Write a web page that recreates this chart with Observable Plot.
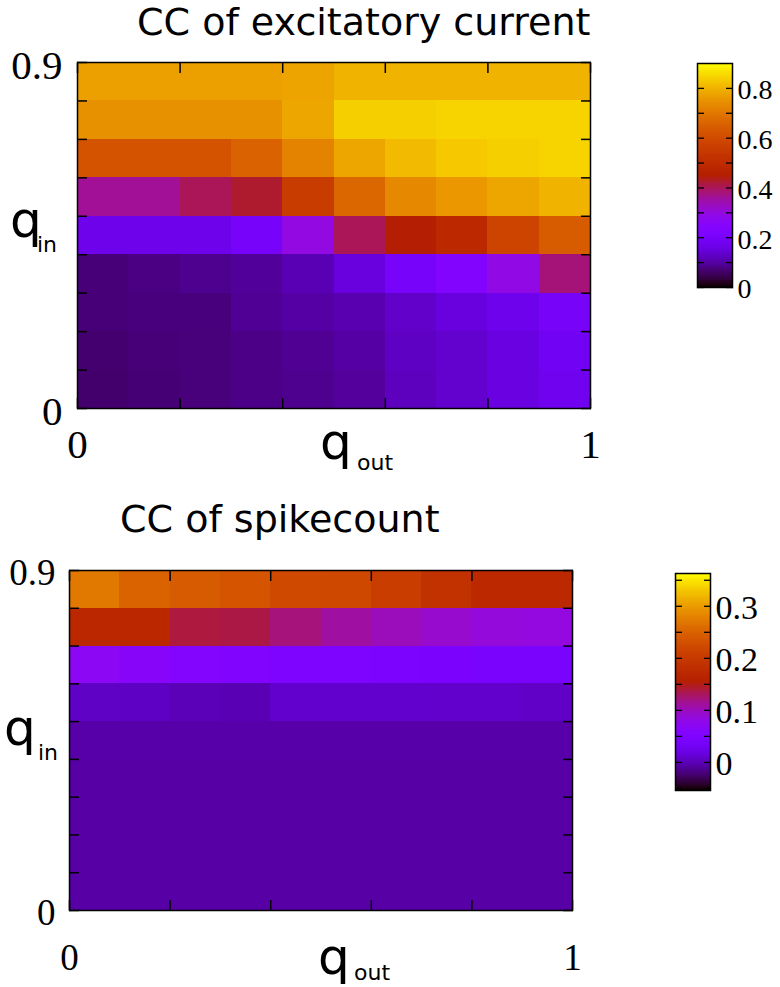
<!DOCTYPE html>
<html><head><meta charset="utf-8">
<script src="https://cdn.jsdelivr.net/npm/d3@7"></script>
<script src="https://cdn.jsdelivr.net/npm/@observablehq/plot@0.6"></script>
<style>
body{margin:0;background:#fff;}
#root{position:relative;width:780px;height:987px;background:#fff;}
.abs{position:absolute;white-space:nowrap;line-height:1;}
.title{font-family:"DejaVu Sans";font-size:38px;line-height:normal;color:#000;}
.q{font-family:"DejaVu Sans";font-size:50px;letter-spacing:-7px;color:#000;}
.sub{font-family:"DejaVu Sans";font-size:22px;color:#000;}
</style>
</head><body>
<div id="root"></div>
<script>
// ---- data ----
const qOut = [0, 0.1, 0.2, 0.3, 0.4, 0.5, 0.6, 0.7, 0.8, 0.9];   // left edge of each column
const qIn  = [0, 0.1, 0.2, 0.3, 0.4, 0.5, 0.6, 0.7, 0.8];        // bottom edge of each row
const cellStep = 0.1;

// CC of excitatory current, rows q_in = 0 (bottom) ... 0.8 (top)
const excRow0 = [0.063,0.068,0.072,0.080,0.085,0.095,0.120,0.135,0.155,0.175];
const excRow1 = [0.065,0.070,0.072,0.080,0.088,0.100,0.125,0.135,0.155,0.180];
const excRow2 = [0.070,0.073,0.073,0.090,0.100,0.110,0.130,0.150,0.170,0.195];
const excRow3 = [0.070,0.077,0.085,0.093,0.112,0.153,0.200,0.234,0.290,0.380];
const excRow4 = [0.167,0.167,0.167,0.200,0.295,0.400,0.448,0.490,0.580,0.640];
const excRow5 = [0.360,0.360,0.400,0.424,0.555,0.665,0.730,0.755,0.780,0.800];
const excRow6 = [0.620,0.620,0.620,0.655,0.720,0.780,0.810,0.830,0.840,0.845];
const excRow7 = [0.745,0.745,0.745,0.745,0.780,0.840,0.840,0.845,0.845,0.845];
const excRow8 = [0.770,0.770,0.770,0.770,0.775,0.800,0.800,0.800,0.800,0.800];

// CC of spikecount
const spkRow0 = [-0.007,-0.007,-0.007,-0.007,-0.007,-0.007,-0.007,-0.007,-0.007,-0.007];
const spkRow1 = [-0.007,-0.007,-0.007,-0.007,-0.007,-0.007,-0.007,-0.007,-0.007,-0.007];
const spkRow2 = [-0.007,-0.007,-0.007,-0.007,-0.007,-0.007,-0.007,-0.007,-0.007,-0.007];
const spkRow3 = [-0.007,-0.007,-0.007,-0.007,-0.007,-0.007,-0.007,-0.007,-0.007,-0.007];
const spkRow4 = [-0.006,-0.006,-0.006,-0.006,-0.006,-0.006,-0.006,-0.006,-0.006,-0.006];
const spkRow5 = [0.005,0.004,-0.001,-0.002,0.008,0.008,0.008,0.007,0.007,0.006];
const spkRow6 = [0.071,0.063,0.056,0.052,0.050,0.048,0.045,0.043,0.042,0.042];
const spkRow7 = [0.170,0.170,0.138,0.136,0.121,0.109,0.100,0.092,0.086,0.084];
const spkRow8 = [0.270,0.250,0.242,0.234,0.221,0.220,0.205,0.188,0.172,0.172];

const excColorDomain = [0, 0.9];
const spkColorDomain = [-0.054, 0.363];
const xTickValues = [0, 0.2, 0.4, 0.6, 0.8, 1];
const xTickLabels = [0, 1];
const yTickValues = [0, 0.1, 0.2, 0.3, 0.4, 0.5, 0.6, 0.7, 0.8, 0.9];
const yTickLabels = [0, 0.9];
const excBarTicks = [0, 0.1, 0.2, 0.3, 0.4, 0.5, 0.6, 0.7, 0.8];
const excBarLabels = [0, 0.2, 0.4, 0.6, 0.8];
const spkBarTicks = [-0.05, 0, 0.05, 0.1, 0.15, 0.2, 0.25, 0.3, 0.35];
const spkBarLabels = [0, 0.1, 0.2, 0.3];

// gnuplot default pm3d palette (rgbformulae 7,5,15)
const gnuplotPalette = t => {
  t = Math.max(0, Math.min(1, t));
  const r = Math.sqrt(t), g = t * t * t, b = Math.max(0, Math.sin(2 * Math.PI * t));
  return `rgb(${Math.round(r*255)},${Math.round(g*255)},${Math.round(b*255)})`;
};

const root = document.getElementById("root");
function place(el, left, top) {
  el.style.position = "absolute"; el.style.left = left + "px"; el.style.top = top + "px";
  el.style.overflow = "visible";
  root.appendChild(el);
}
function html(cls, text, left, top) {
  const d = document.createElement("div");
  d.className = "abs " + cls; d.textContent = text;
  d.style.left = left + "px"; d.style.top = top + "px";
  root.appendChild(d);
}

function heatmap(rows, colorDomain, o) {
  const cells = [];
  rows.forEach((row, i) => row.forEach((v, j) => cells.push({qout: qOut[j], qin: qIn[i], v})));
  const fmt = d => String(d);
  return Plot.plot({
    width: o.width, height: o.height,
    marginLeft: o.ml, marginRight: o.mr, marginTop: o.mt, marginBottom: o.mb,
    x: {domain: [0, 1]},
    y: {domain: [0, 0.9]},
    color: {type: "linear", domain: colorDomain, interpolate: gnuplotPalette, clamp: true},
    style: {fontFamily: "'Liberation Serif', serif", background: "transparent", color: "#000"},
    marks: [
      Plot.rect(cells, {x1: "qout", x2: d => d.qout + cellStep, y1: "qin", y2: d => d.qin + cellStep,
        fill: "v", shapeRendering: "crispEdges"}),
      Plot.axisX({anchor: "bottom", ticks: xTickValues, tickSize: -o.tick, tickFormat: () => "", label: null, strokeWidth: 1.5}),
      Plot.axisX({anchor: "top", ticks: xTickValues, tickSize: -o.tick, tickFormat: () => "", label: null, strokeWidth: 1.5}),
      Plot.axisY({anchor: "left", ticks: yTickValues, tickSize: -o.tick, tickFormat: () => "", label: null, strokeWidth: 1.5}),
      Plot.axisY({anchor: "right", ticks: yTickValues, tickSize: -o.tick, tickFormat: () => "", label: null, strokeWidth: 1.5}),
      Plot.axisX({anchor: "bottom", ticks: xTickLabels, tickSize: 0, tickPadding: o.xpad, tickFormat: fmt, label: null, fontSize: o.fs}),
      Plot.axisY({anchor: "left", ticks: yTickLabels, tickSize: 0, tickPadding: o.ypad, tickFormat: fmt, label: null, fontSize: o.fs, dy: 3}),
      Plot.frame({stroke: "#000", strokeWidth: 1.5})
    ]
  });
}

function colorbar(colorDomain, ticks, labels, o) {
  const n = 240;
  const step = (colorDomain[1] - colorDomain[0]) / n;
  const strips = d3.range(n).map(i => colorDomain[0] + i * step);
  return Plot.plot({
    width: o.width, height: o.height,
    marginLeft: o.ml, marginRight: o.mr, marginTop: o.mt, marginBottom: o.mb,
    x: {domain: [0, 1], axis: null},
    y: {domain: colorDomain},
    color: {type: "linear", domain: colorDomain, interpolate: gnuplotPalette, clamp: true},
    style: {fontFamily: "'Liberation Serif', serif", background: "transparent", color: "#000"},
    marks: [
      Plot.rect(strips, {x1: 0, x2: 1, y1: d => d, y2: d => d + step * 1.05, fill: d => d + step / 2, shapeRendering: "crispEdges"}),
      Plot.axisY({anchor: "left", ticks, tickSize: -7, tickFormat: () => "", label: null, strokeWidth: 1.3}),
      Plot.axisY({anchor: "right", ticks, tickSize: -7, tickFormat: () => "", label: null, strokeWidth: 1.3}),
      Plot.axisY({anchor: "right", ticks: labels, tickSize: 0, tickPadding: 5, tickFormat: d => String(d), label: null, fontSize: o.fs, dy: 2}),
      Plot.frame({stroke: "#000", strokeWidth: 1.5})
    ]
  });
}

// top panel
html("title", "CC of excitatory current", 137, 0);
place(heatmap([excRow0, excRow1, excRow2, excRow3, excRow4, excRow5, excRow6, excRow7, excRow8], excColorDomain,
  {width: 640, height: 480, ml: 77, mr: 50, mt: 62, mb: 72, tick: 10, xpad: 20, ypad: 15, fs: 41}), 0, 0);
place(colorbar(excColorDomain, excBarTicks, excBarLabels,
  {width: 85, height: 256, ml: 2, mr: 48, mt: 16, mb: 16, fs: 28}), 695, 47);
html("q", "q", 10, 195);
html("sub", "in", 37, 234);
html("q", "q", 320, 417);
html("sub", "out", 357, 452);

// bottom panel
html("title", "CC of spikecount", 120, 497);
place(heatmap([spkRow0, spkRow1, spkRow2, spkRow3, spkRow4, spkRow5, spkRow6, spkRow7, spkRow8], spkColorDomain,
  {width: 640, height: 480, ml: 69, mr: 68, mt: 70, mb: 70, tick: 10, xpad: 33, ypad: 14, fs: 37}), 0, 500);
place(colorbar(spkColorDomain, spkBarTicks, spkBarLabels,
  {width: 107, height: 251, ml: 2, mr: 70, mt: 17, mb: 17, fs: 34}), 673, 556);
html("q", "q", 4, 703);
html("sub", "in", 38, 742);
html("q", "q", 318, 932);
html("sub", "out", 354, 962);
</script>
</body></html>
